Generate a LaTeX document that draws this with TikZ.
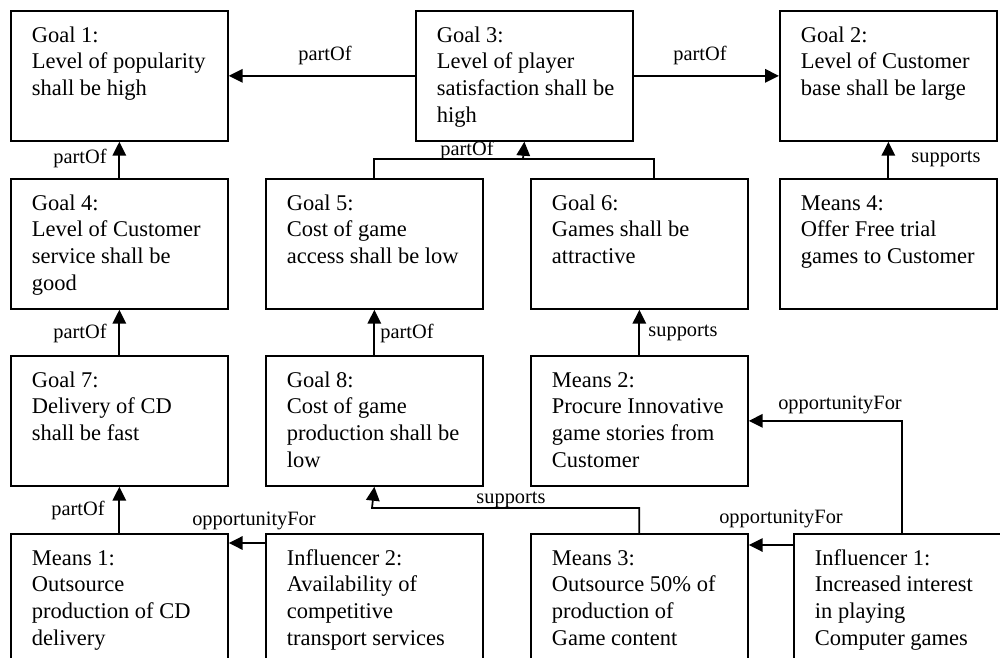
\documentclass[tikz,border=0pt]{standalone}
\usepackage{fontspec}
\setmainfont{Liberation Serif}
\usetikzlibrary{arrows.meta}
\newcommand{\boxtext}[1]{\parbox[t][2.08cm][t]{3.5cm}{\begin{tabular}[t]{@{}l@{}}#1\end{tabular}}}

\begin{document}
\begin{tikzpicture}[x=0.02cm, y=-0.02cm]
    \clip (0,0) rectangle (1000,658);

    \begin{scope}[every node/.style={draw, line width=1pt, anchor=north west, inner xsep=0.42cm, inner ysep=0.26cm, font=\fontsize{12.8}{15.1}\selectfont}]
        \node (g1) at (10,10) {\boxtext{Goal 1:\\ Level of popularity\\ shall be high}};
        \node (g3) at (415,10) {\boxtext{Goal 3:\\ Level of player\\ satisfaction shall be\\ high}};
        \node (g2) at (779,10) {\boxtext{Goal 2:\\ Level of Customer\\ base shall be large}};
        \node (g4) at (10,178) {\boxtext{Goal 4:\\ Level of Customer\\ service shall be\\ good}};
        \node (g5) at (265,178) {\boxtext{Goal 5:\\ Cost of game\\ access shall be low}};
        \node (g6) at (530,178) {\boxtext{Goal 6:\\ Games shall be\\ attractive}};
        \node (m4) at (779,178) {\boxtext{Means 4:\\ Offer Free trial\\ games to Customer}};
        \node (g7) at (10,355) {\boxtext{Goal 7:\\ Delivery of CD\\ shall be fast}};
        \node (g8) at (265,355) {\boxtext{Goal 8:\\ Cost of game\\ production shall be\\ low}};
        \node (m2) at (530,355) {\boxtext{Means 2:\\ Procure Innovative\\ game stories from\\ Customer}};
        \node (m1) at (10,533) {\boxtext{Means 1:\\ Outsource\\ production of CD\\ delivery}};
        \node (i2) at (265,533) {\boxtext{Influencer 2:\\ Availability of\\ competitive\\ transport services}};
        \node (m3) at (530,533) {\boxtext{Means 3:\\ Outsource 50\% of\\ production of\\ Game content}};
        \node (i1) at (793,533) {\boxtext{Influencer 1:\\ Increased interest\\ in playing\\ Computer games}};
    \end{scope}

    \coordinate (j3) at (523,159);
    \coordinate (j6) at (654,159);
    \coordinate (j8) at (372,508);

    \begin{scope}[line width=1pt, >={Triangle[length=0.28cm, width=0.27cm]}]
        \draw [->] (g3.west) -- (g1.east);
        \draw [->] (g3.east) -- (g2.west);
        \draw [->] (g4.north) -- (g1.south);
        \draw (g5.north) |- (j6) -- (g6.north -| j6);
        \draw [->] (j3) -- (g3.south);
        \draw [->] (m4.north) -- (g2.south);
        \draw [->] (g7.north) -- (g4.south);
        \draw [->] (g8.north) -- (g5.south);
        \draw [->] (m2.north) -- (g6.south);
        \draw [->] (m1.north) -- (g7.south);
        \draw [->] (m3.north) |- (j8) -- (g8.south);
        \draw [->] (i1.north) |- (m2.east);
        \draw [->] ([yshift=-0.24cm]i1.north west) -- ([yshift=-0.24cm]m3.north east);
        \draw [->] ([yshift=-0.2cm]i2.north west) -- ([yshift=-0.2cm]m1.north east);
    \end{scope}

    \begin{scope}[every node/.style={anchor=base, inner sep=0pt, font=\fontsize{11.6}{13}\selectfont}]
        \node (p31) at (325,61) {partOf};
        \node (p32) at (700,61) {partOf};
        \node (p41) at (80,164) {partOf};
        \node (p3) at (467,156) {partOf};
        \node (s42) at (946,163) {supports};
        \node (p74) at (80,338) {partOf};
        \node (p85) at (407,338) {partOf};
        \node (s26) at (683,337) {supports};
        \node (o12) at (840,409) {opportunityFor};
        \node (s38) at (511,503) {supports};
        \node (p17) at (78,515) {partOf};
        \node (o21) at (254,525) {opportunityFor};
        \node (o13) at (781,523) {opportunityFor};
    \end{scope}
\end{tikzpicture}
\end{document}
